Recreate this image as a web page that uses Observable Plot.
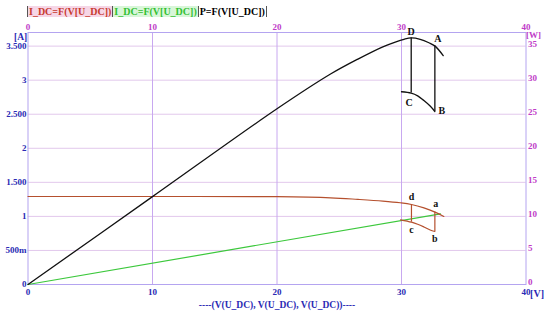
<!DOCTYPE html>
<html><head><meta charset="utf-8">
<script src="https://cdn.jsdelivr.net/npm/d3@7"></script>
<script src="https://cdn.jsdelivr.net/npm/@observablehq/plot@0.6"></script>
<style>
body{margin:0;background:#fff;}
#wrap{position:relative;width:550px;height:314px;}
#legend{position:absolute;top:6px;left:27px;font:bold 10px "Liberation Serif",serif;display:flex;line-height:11px;}
#legend span{padding:0 1px;border-left:1px solid #555;}
#legend span:last-child{border-right:1px solid #555;}
</style></head>
<body><div id="wrap"><div id="legend"></div></div>
<script>
// legend entries
const legendNames = ["I_DC=F(V[U_DC])", "I_DC=F(V[U_DC])", "P=F(V[U_DC])"];
const legendColors = ["#c83a2e", "#33c033", "#000000"];
const legendBgs = ["#f6d6e6", "#d8f6d8", "#ffffff"];

// upper current curve I(V) [A]
const redUpperV = [0, 10, 20, 24.3, 26.5, 28.5, 29.9, 30.8, 31.8, 32.7, 33.4];
const redUpperI = [1.292, 1.292, 1.289, 1.273, 1.25, 1.225, 1.2, 1.175, 1.125, 1.062, 0.999];
// lower current curve c-b
const redLowerV = [29.92, 30.8, 31.3, 31.8, 32.3, 32.68];
const redLowerI = [0.95, 0.915, 0.885, 0.845, 0.80, 0.778];
// green load line
const greenV = [0, 33.13];
const greenI = [0, 1.038];
// power curve P(V) [W]
const blackUpperV = [0, 10, 20, 24.3, 26.5, 28.5, 29.5, 30.2, 30.78, 31.5, 32.2, 32.7, 33.35];
const blackUpperP = [0, 12.9, 25.8, 30.9, 33.1, 34.9, 35.6, 36.0, 36.2, 36.0, 35.5, 35.0, 33.6];
// lower power curve C-B
const blackLowerV = [30.0, 30.78, 31.3, 31.8, 32.3, 32.68];
const blackLowerP = [28.3, 28.1, 27.7, 27.0, 26.2, 25.4];
// vertical jumps
const redJumpV = [30.8, 32.68];
const redJumpTop = [1.175, 1.062];
const redJumpBottom = [0.915, 0.778];
const blackJumpV = [30.78, 32.68];
const blackJumpTop = [36.2, 35.0];
const blackJumpBottom = [28.1, 25.4];

// axis ticks
const xTicks = [0, 10, 20, 30, 40];
const leftTicks = [0, 0.5, 1, 1.5, 2, 2.5, 3, 3.5];
const leftLabels = ["0", "500m", "1", "1.500", "2", "2.500", "3", "3.500"];
const rightTicksW = [0, 5, 10, 15, 20, 25, 30, 35];
const wattsPerAmp = 10; // right axis W = 10 x left axis A

const leftMap = new Map(leftTicks.map((t, i) => [t, leftLabels[i]]));
const rowsOf = (xs, ys) => xs.map((x, i) => ({x, y: ys[i]}));
const redUpper = rowsOf(redUpperV, redUpperI);
const redLower = rowsOf(redLowerV, redLowerI);
const green = rowsOf(greenV, greenI);
const blackUpper = rowsOf(blackUpperV, blackUpperP.map(p => p / wattsPerAmp));
const blackLower = rowsOf(blackLowerV, blackLowerP.map(p => p / wattsPerAmp));
const redJumps = redJumpV.map((x, i) => ({x, y1: redJumpTop[i], y2: redJumpBottom[i]}));
const blackJumps = blackJumpV.map((x, i) => ({x, y1: blackJumpTop[i] / wattsPerAmp, y2: blackJumpBottom[i] / wattsPerAmp}));

const pointLabels = [
  {x: blackJumpV[0], y: blackJumpTop[0] / wattsPerAmp, t: "D", dx: 0, dy: -6},
  {x: blackJumpV[1], y: blackJumpTop[1] / wattsPerAmp, t: "A", dx: 3, dy: -7},
  {x: blackJumpV[0], y: blackJumpBottom[0] / wattsPerAmp, t: "C", dx: -2, dy: 10},
  {x: blackJumpV[1], y: blackJumpBottom[1] / wattsPerAmp, t: "B", dx: 7, dy: -1},
  {x: redJumpV[0], y: redJumpTop[0], t: "d", dx: 0, dy: -8},
  {x: redJumpV[1], y: redJumpTop[1], t: "a", dx: 1, dy: -8},
  {x: redJumpV[0], y: redJumpBottom[0], t: "c", dx: 0, dy: 8},
  {x: redJumpV[1], y: redJumpBottom[1], t: "b", dx: 0, dy: 7}
];

const redC = "#b5502e", greenC = "#3cc83c";
const blueTxt = "#2a2ab4", magTxt = "#c03cc8";

const chart = Plot.plot({
  width: 550, height: 314,
  marginLeft: 27.5, marginRight: 24.5, marginTop: 32, marginBottom: 30,
  x: {domain: [0, 40]},
  y: {domain: [0, 3.7]},
  style: {fontFamily: "'Liberation Serif', serif", fontWeight: "bold", fontSize: "9px", background: "white", overflow: "visible"},
  marks: [
    Plot.gridY({ticks: leftTicks.slice(1), stroke: "#e2c8ec", strokeOpacity: 1}),
    Plot.gridX({ticks: [10, 20, 30], stroke: "#c8a8f0", strokeOpacity: 1}),
    Plot.frame({stroke: "#b4a4f0"}),
    Plot.axisY({anchor: "left", ticks: leftTicks, tickFormat: d => leftMap.get(d), tickSize: 0, tickPadding: 1.5, fill: blueTxt, label: null}),
    Plot.axisY({anchor: "right", ticks: rightTicksW.map(w => w / wattsPerAmp), tickFormat: d => String(Math.round(d * wattsPerAmp)), tickSize: 0, tickPadding: 2, dy: -2, fill: magTxt, label: null}),
    Plot.axisX({anchor: "top", ticks: xTicks, tickSize: 0, tickPadding: 3, fill: magTxt, label: null}),
    Plot.axisX({anchor: "bottom", ticks: xTicks, tickSize: 0, tickPadding: 4, fill: blueTxt, label: null}),
    Plot.text(["[A]"], {frameAnchor: "top-left", lineAnchor: "middle", dx: -14, dy: 4, fill: blueTxt, fontSize: 9.5}),
    Plot.text(["[W]"], {frameAnchor: "top-right", lineAnchor: "middle", dx: 15, dy: 2.5, fill: magTxt, fontSize: 9}),
    Plot.text(["[V]"], {frameAnchor: "bottom-right", lineAnchor: "middle", dx: 18, dy: 9, fill: blueTxt, fontSize: 10}),
    Plot.text(["----(V(U_DC), V(U_DC), V(U_DC))----"], {frameAnchor: "bottom", lineAnchor: "middle", dy: 20, fill: blueTxt, fontSize: 9.5}),
    Plot.line(green, {x: "x", y: "y", stroke: greenC, strokeWidth: 1.2}),
    Plot.line(redUpper, {x: "x", y: "y", stroke: redC, strokeWidth: 1.2, curve: "catmull-rom"}),
    Plot.line(redLower, {x: "x", y: "y", stroke: redC, strokeWidth: 1.2, curve: "catmull-rom"}),
    Plot.ruleX(redJumps, {x: "x", y1: "y1", y2: "y2", stroke: redC, strokeWidth: 1.2}),
    Plot.line(blackUpper, {x: "x", y: "y", stroke: "#111", strokeWidth: 1.3, curve: "catmull-rom"}),
    Plot.line(blackLower, {x: "x", y: "y", stroke: "#111", strokeWidth: 1.3, curve: "catmull-rom"}),
    Plot.ruleX(blackJumps, {x: "x", y1: "y1", y2: "y2", stroke: "#111", strokeWidth: 1.3}),
    ...pointLabels.map(l => Plot.text([l], {x: "x", y: "y", text: "t", dx: l.dx, dy: l.dy, fill: "#111", fontSize: 10}))
  ]
});
document.getElementById("wrap").appendChild(chart);
const leg = document.getElementById("legend");
legendNames.forEach((n, i) => {
  const s = document.createElement("span");
  s.textContent = n; s.style.color = legendColors[i]; s.style.background = legendBgs[i];
  leg.appendChild(s);
});
</script></body></html>
